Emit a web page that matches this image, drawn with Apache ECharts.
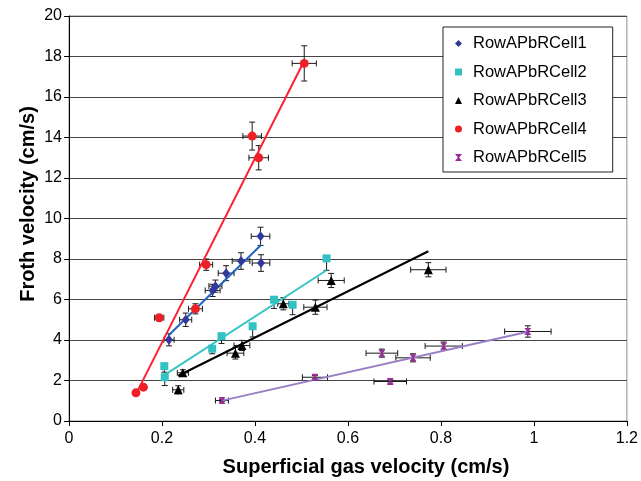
<!DOCTYPE html>
<html>
<head>
<meta charset="utf-8">
<script src="https://cdn.jsdelivr.net/npm/echarts@6/dist/echarts.min.js"></script>
<style>
html,body{margin:0;padding:0;background:#fff}
#chart{width:641px;height:481px}
</style>
</head>
<body>
<div id="chart"></div>
<script>
// Froth velocity vs superficial gas velocity, five cells of row A.
// Each cell: gas velocity (vg), froth velocity (vf) and their error half-widths.
const cellNames = ['RowAPbRCell1', 'RowAPbRCell2', 'RowAPbRCell3', 'RowAPbRCell4', 'RowAPbRCell5'];

const vg1 = [0.215, 0.251, 0.309, 0.315, 0.338, 0.370, 0.412, 0.413];
const vf1 = [4.01, 5.00, 6.45, 6.66, 7.30, 7.90, 9.12, 7.80];
const errVg1 = [0.011, 0.013, 0.016, 0.014, 0.017, 0.019, 0.020, 0.019];
const errVf1 = [0.30, 0.33, 0.30, 0.30, 0.37, 0.41, 0.45, 0.41];

const vg2 = [0.205, 0.206, 0.308, 0.328, 0.395, 0.441, 0.481, 0.554];
const vf2 = [2.71, 2.16, 3.57, 4.19, 4.68, 5.99, 5.74, 8.03];
const errVg2 = [0, 0, 0, 0, 0, 0, 0, 0];
const errVf2 = [0.30, 0.41, 0.25, 0.36, 0.53, 0.43, 0.49, 0.59]; // minus side only

const vg3 = [0.235, 0.245, 0.358, 0.372, 0.461, 0.530, 0.564, 0.773];
const vf3 = [1.54, 2.38, 3.35, 3.73, 5.79, 5.62, 6.94, 7.47];
const errVg3 = [0.012, 0.012, 0.018, 0.017, 0.012, 0.025, 0.028, 0.038];
const errVf3 = [0.20, 0.15, 0.29, 0.25, 0.30, 0.35, 0.35, 0.35];

const vg4 = [0.144, 0.160, 0.194, 0.272, 0.295, 0.394, 0.408, 0.506];
const vf4 = [1.39, 1.67, 5.10, 5.54, 7.72, 14.07, 13.00, 17.66];
const errVg4 = [0.004, 0.006, 0.010, 0.015, 0.014, 0.020, 0.021, 0.026];
const errVf4 = [0.12, 0.10, 0.15, 0.25, 0.28, 0.69, 0.60, 0.87];

const vg5 = [0.329, 0.529, 0.673, 0.691, 0.740, 0.806, 0.987];
const vf5 = [1.01, 2.16, 3.35, 1.95, 3.12, 3.70, 4.42];
const errVg5 = [0.014, 0.027, 0.034, 0.035, 0.037, 0.040, 0.050];
const errVf5 = [0.06, 0.08, 0.20, 0.08, 0.20, 0.20, 0.28];

const FONT = '"Liberation Sans", Arial, Helvetica, sans-serif';

const cells = [
  { name: cellNames[0], vg: vg1, vf: vf1, ex: errVg1, ey: errVf1, minusOnly: false,
    color: '#31399A', lineColor: '#2162C2', symbol: 'diamond', size: [8, 10] },
  { name: cellNames[1], vg: vg2, vf: vf2, ex: errVg2, ey: errVf2, minusOnly: true,
    color: '#33C2C2', lineColor: '#36C6C6', symbol: 'rect', size: 8 },
  { name: cellNames[2], vg: vg3, vf: vf3, ex: errVg3, ey: errVf3, minusOnly: false,
    color: '#000000', lineColor: '#000000', symbol: 'triangle', size: 9 },
  { name: cellNames[3], vg: vg4, vf: vf4, ex: errVg4, ey: errVf4, minusOnly: false,
    color: '#EE1F26', lineColor: '#FF2030', symbol: 'circle', size: 9 },
  { name: cellNames[4], vg: vg5, vf: vf5, ex: errVg5, ey: errVf5, minusOnly: false,
    color: '#9B2E96', lineColor: '#9A7EC6', symbol: 'path://M0,0L10,0L6,5L10,10L0,10L4,5Z', size: 7 }
];

// least-squares straight line, drawn across the range of the data
function trend(xs, ys) {
  const n = xs.length;
  let sx = 0, sy = 0, sxx = 0, sxy = 0;
  for (let i = 0; i < n; i++) { sx += xs[i]; sy += ys[i]; sxx += xs[i] * xs[i]; sxy += xs[i] * ys[i]; }
  const b = (n * sxy - sx * sy) / (n * sxx - sx * sx);
  const a = (sy - b * sx) / n;
  const x0 = Math.min(...xs), x1 = Math.max(...xs);
  return [[x0, a + b * x0], [x1, a + b * x1]];
}

function renderErrorBars(params, api) {
  const x = api.value(0), y = api.value(1);
  const ex = api.value(2), eyLo = api.value(3), eyHi = api.value(4);
  const cap = 3;
  const style = { stroke: '#1a1a1a', lineWidth: 1 };
  const kids = [];
  const seg = (x1, y1, x2, y2) => kids.push({ type: 'line', shape: { x1, y1, x2, y2 }, style });
  if (ex > 0) {
    const l = api.coord([x - ex, y]), r = api.coord([x + ex, y]);
    seg(l[0], l[1], r[0], r[1]);
    seg(l[0], l[1] - cap, l[0], l[1] + cap);
    seg(r[0], r[1] - cap, r[0], r[1] + cap);
  }
  const c = api.coord([x, y]);
  if (eyLo > 0) {
    const lo = api.coord([x, y - eyLo]);
    seg(c[0], c[1], lo[0], lo[1]);
    seg(lo[0] - cap, lo[1], lo[0] + cap, lo[1]);
  }
  if (eyHi > 0) {
    const hi = api.coord([x, y + eyHi]);
    seg(c[0], c[1], hi[0], hi[1]);
    seg(hi[0] - cap, hi[1], hi[0] + cap, hi[1]);
  }
  return { type: 'group', children: kids };
}

const series = [];
cells.forEach(function (c) {
  series.push({
    type: 'custom',
    name: c.name + ' error',
    renderItem: renderErrorBars,
    encode: { x: 0, y: 1 },
    z: 2,
    silent: true,
    data: c.vg.map((v, i) => [v, c.vf[i], c.ex[i], c.ey[i], c.minusOnly ? 0 : c.ey[i]])
  });
});
cells.forEach(function (c) {
  series.push({
    type: 'line',
    name: c.name + ' trend',
    data: trend(c.vg, c.vf),
    showSymbol: false,
    symbol: 'none',
    z: 3,
    silent: true,
    lineStyle: { color: c.lineColor, width: 2 }
  });
});
cells.forEach(function (c) {
  series.push({
    type: 'scatter',
    name: c.name,
    symbol: c.symbol,
    symbolSize: c.size,
    symbolKeepAspect: true,
    z: 4,
    itemStyle: { color: c.color, opacity: 1 },
    data: c.vg.map((v, i) => [v, c.vf[i]])
  });
});

const chart = echarts.init(document.getElementById('chart'), null, { renderer: 'canvas' });
chart.setOption({
  animation: false,
  backgroundColor: '#ffffff',
  grid: {
    left: 69, right: 13, top: 16, bottom: 60,
    show: true, borderColor: '#8c8c8c', borderWidth: 1, backgroundColor: 'transparent'
  },
  xAxis: {
    type: 'value', min: 0, max: 1.2, interval: 0.2,
    axisLine: { show: true, onZero: false, lineStyle: { color: '#000', width: 1 } },
    axisTick: { show: true, inside: false, length: 5, lineStyle: { color: '#000' } },
    axisLabel: {
      color: '#000', fontSize: 16, fontFamily: FONT, margin: 10,
      formatter: v => String(Math.round(v * 10) / 10)
    },
    splitLine: { show: false }
  },
  yAxis: {
    type: 'value', min: 0, max: 20, interval: 2,
    axisLine: { show: true, onZero: false, lineStyle: { color: '#000', width: 1 } },
    axisTick: { show: true, inside: false, length: 5, lineStyle: { color: '#000' } },
    axisLabel: { color: '#000', fontSize: 16, fontFamily: FONT, margin: 7 },
    splitLine: { show: true, lineStyle: { color: '#444', width: 1 } }
  },
  legend: {
    orient: 'vertical',
    left: 443, top: 27,
    padding: [8, 26, 6, 12],
    itemWidth: 7, itemHeight: 7, itemGap: 11.5,
    borderColor: '#222', borderWidth: 1, backgroundColor: '#fff',
    textStyle: { fontSize: 16.5, fontFamily: FONT, color: '#000', lineHeight: 17, padding: [0, 0, 0, 6] },
    data: cellNames
  },
  graphic: [
    { type: 'text', x: 366, y: 467, z: 10,
      style: { text: 'Superficial gas velocity (cm/s)', font: 'bold 20px ' + FONT, fill: '#000',
               align: 'center', verticalAlign: 'middle' } },
    { type: 'text', x: 28, y: 204, rotation: Math.PI / 2, z: 10,
      style: { text: 'Froth velocity (cm/s)', font: 'bold 20px ' + FONT, fill: '#000',
               align: 'center', verticalAlign: 'middle' } }
  ],
  series: series
});
</script>
</body>
</html>
